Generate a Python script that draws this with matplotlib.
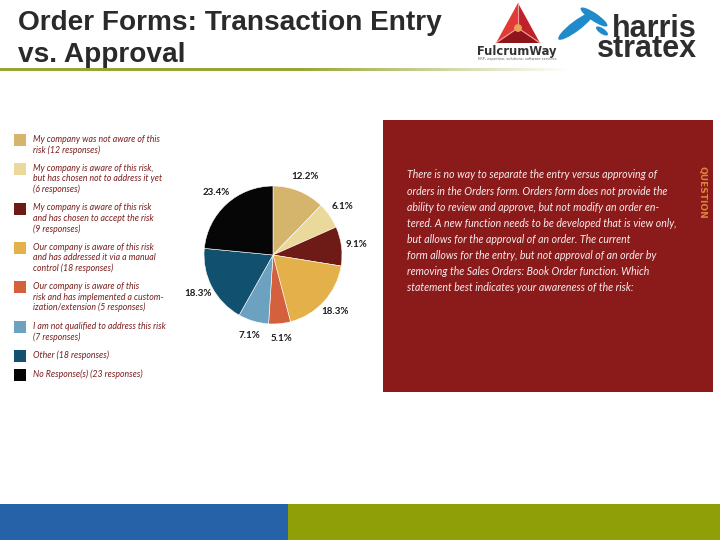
import numpy as np
import matplotlib
matplotlib.use("Agg")
import matplotlib.pyplot as plt
from matplotlib.patches import Rectangle, Polygon, Ellipse, Circle

# ---------------- data ----------------
title_lines = ["Order Forms: Transaction Entry", "vs. Approval"]
categories = [
    "My company was not aware of this\nrisk (12 responses)",
    "My company is aware of this risk,\nbut has chosen not to address it yet\n(6 responses)",
    "My company is aware of this risk\nand has chosen to accept the risk\n(9 responses)",
    "Our company is aware of this risk\nand has addressed it via a manual\ncontrol (18 responses)",
    "Our company is aware of this\nrisk and has implemented a custom-\nization/extension (5 responses)",
    "I am not qualified to address this risk\n(7 responses)",
    "Other (18 responses)",
    "No Response(s) (23 responses)",
]
responses = [12, 6, 9, 18, 5, 7, 18, 23]
pct_labels = ["12.2%", "6.1%", "9.1%", "18.3%", "5.1%", "7.1%", "18.3%", "23.4%"]
colors = ["#D5B46B", "#EBD89B", "#6E1B17", "#E3B04A", "#D4603E", "#6DA1C0", "#12506F", "#060606"]
question_lines = [
    "There is no way to separate the entry versus approving of",
    "orders in the Orders form. Orders form does not provide the",
    "ability to review and approve, but not modify an order en-",
    "tered. A new function needs to be developed that is view only,",
    "but allows for the approval of an order. The current",
    "form allows for the entry, but not approval of an order by",
    "removing the Sales Orders: Book Order function. Which",
    "statement best indicates your awareness of the risk:",
]

NARROW = ["Lato", "DejaVu Sans"]

fig = plt.figure(figsize=(7.2, 5.4), dpi=100)
bg = fig.add_axes([0, 0, 1, 1])
bg.set_xlim(0, 720)
bg.set_ylim(540, 0)
bg.axis("off")

# title
for i, line in enumerate(title_lines):
    bg.text(18, 30 + i * 32, line, fontsize=20.2, fontweight="bold", color="#2A2A2A",
            family=["Liberation Sans", "DejaVu Sans"], va="baseline", ha="left")

# gradient rule under title
grad = np.zeros((1, 600, 4))
xs = np.linspace(0, 600, 600)
grad[..., 0] = 0.60
grad[..., 1] = 0.65
grad[..., 2] = 0.20
grad[..., 3] = np.clip((570 - xs) / 270, 0, 1)
bg.imshow(grad, extent=(0, 600, 71.5, 68.5), aspect="auto", zorder=2)
bg.set_xlim(0, 720)
bg.set_ylim(540, 0)

# FulcrumWay logo
cx, cy = 518, 28
A, B, C = (518, 3), (496, 43), (540, 43)
bg.add_patch(Polygon([A, B, (cx, cy)], closed=True, color="#E23A36", lw=0))
bg.add_patch(Polygon([A, C, (cx, cy)], closed=True, color="#C0222A", lw=0))
bg.add_patch(Polygon([B, C, (cx, cy)], closed=True, color="#8E1519", lw=0))
for v in (A, B, C):
    bg.plot([v[0], cx], [v[1], cy], color="#F0A0A0", lw=0.8)
bg.add_patch(Circle((cx, cy), 3.2, color="#E9A258", zorder=3))
bg.text(517, 51, "FulcrumWay", fontsize=8.3, fontweight="bold", color="#333333",
        ha="center", va="center", family=["DejaVu Sans"])
bg.text(517, 59, "ERP, expertise, solutions, software services", fontsize=2.6,
        color="#666666", ha="center", va="center")

# harris stratex logo
blue = "#1F8BCB"
bg.add_patch(Ellipse((576, 26), 44, 10, angle=-37, color=blue, lw=0))
bg.add_patch(Ellipse((594, 17), 32, 8, angle=34, color=blue, lw=0))
bg.add_patch(Ellipse((602, 31), 14, 5.5, angle=34, color=blue, lw=0))
bg.text(697, 57, "harris\nstratex", fontsize=22, fontweight="bold", color="#2E2E2E",
        ha="right", va="baseline", multialignment="right", linespacing=0.58,
        family=["Liberation Sans", "DejaVu Sans"])

# legend (manual)
y = 140
for lab, col in zip(categories, colors):
    n = lab.count("\n") + 1
    bg.add_patch(Rectangle((13.5, y - 6), 12, 12, color=col, lw=0))
    bg.text(33, y - 5, lab, fontsize=6.3, style="italic", color="#7A1E1E",
            family=NARROW, ha="left", va="top", linespacing=1.18)
    y += n * 10.3 + 8.5

# question box
bg.add_patch(Rectangle((383, 120), 330, 272, color="#8B1A1B", lw=0))
for i, line in enumerate(question_lines):
    bg.text(407, 175 + i * 16.1, line, fontsize=7.6, style="italic", color="#F7ECEC",
            family=NARROW, ha="left", va="center")
bg.text(702, 192, "QUESTION", fontsize=6.5, fontweight="bold", color="#DB853A",
        rotation=-90, ha="center", va="center")

# bottom bars
bg.add_patch(Rectangle((0, 504), 288, 36, color="#2562A8", lw=0))
bg.add_patch(Rectangle((288, 504), 432, 36, color="#8E9F08", lw=0))

# pie
pcx, pcy, r = 273, 255, 69
pax = fig.add_axes([(pcx - r) / 720, 1 - (pcy + r) / 540, 2 * r / 720, 2 * r / 540])
wedges, texts = pax.pie(responses, colors=colors, startangle=90, counterclock=False,
                        labels=pct_labels, labeldistance=1.22,
                        wedgeprops=dict(edgecolor="#FFFFFF", linewidth=0.4),
                        textprops=dict(fontsize=7.0, fontweight="bold", color="#1A1A1A",
                                       family=NARROW))
for t in texts:
    t.set_ha("center")
    t.set_va("center")
pax.set_xlim(-1, 1)
pax.set_ylim(-1, 1)
pax.set_aspect("equal")
pax.axis("off")

fig.savefig("out.png", dpi=100)
